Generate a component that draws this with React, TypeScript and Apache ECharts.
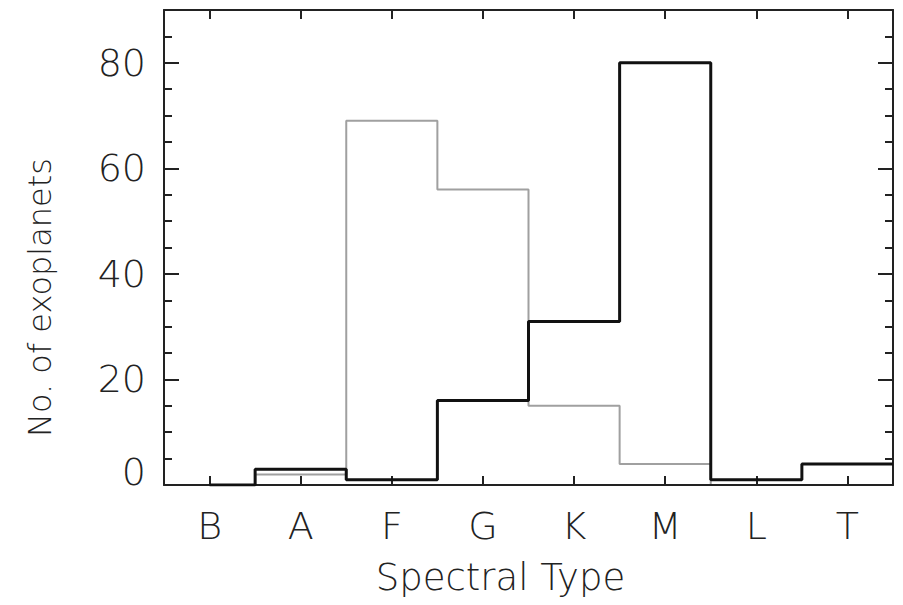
import React, { useEffect, useRef } from "react";
import * as echarts from "echarts";

const categories = ["B", "A", "F", "G", "K", "M", "L", "T"];
const blackCounts = [0, 3, 1, 16, 31, 80, 1, 4];
const grayCounts = [0, 2, 69, 56, 15, 4, 0, 0];
const yMin = 0;
const yMax = 90;
const yMajor = 20;
const yMinor = 5;

const FONT = "DejaVu Sans";
const WEIGHT = 200;
const INK = "#222";

function toSteps(values: number[]): number[][] {
  const pts = values.map((v, i) => [i, v]);
  pts.push([values.length - 0.5, values[values.length - 1]]);
  return pts;
}

export default function App() {
  const ref = useRef<HTMLDivElement>(null);
  useEffect(() => {
    if (!ref.current) return;
    const chart = echarts.init(ref.current, null, { renderer: "svg" });
    const yCommon = { type: "value", min: yMin, max: yMax, splitLine: { show: false } };
    const line = { show: true, onZero: false, lineStyle: { color: INK, width: 2 } };
    const noLine = { show: false, onZero: false };
    const option: any = {
      animation: false,
      backgroundColor: "#fff",
      grid: { left: 164, right: 10, top: 10, bottom: 120, containLabel: false },
      xAxis: [
        {
          type: "category",
          data: categories,
          position: "bottom",
          boundaryGap: true,
          axisLine: line,
          axisTick: { show: true, inside: true, alignWithLabel: true, length: 9, lineStyle: { color: INK, width: 2 } },
          axisLabel: { color: INK, fontFamily: FONT, fontWeight: WEIGHT, fontSize: 38, margin: 22 },
          splitLine: { show: false },
          name: "Spectral Type",
          nameLocation: "middle",
          nameGap: 74,
          nameTextStyle: { color: INK, fontFamily: FONT, fontWeight: WEIGHT, fontSize: 37, padding: [0, 56, 0, 0] },
        },
        {
          type: "category",
          data: categories,
          position: "top",
          boundaryGap: true,
          axisLine: line,
          axisTick: { show: true, inside: true, alignWithLabel: true, length: 9, lineStyle: { color: INK, width: 2 } },
          axisLabel: { show: false },
          splitLine: { show: false },
        },
        {
          type: "value",
          show: false,
          position: "bottom",
          min: -0.5,
          max: categories.length - 0.5,
          axisLine: noLine,
          splitLine: { show: false },
        },
      ],
      yAxis: [
        {
          ...yCommon,
          position: "left",
          interval: yMajor,
          axisLine: line,
          axisTick: { show: true, inside: true, length: 15, lineStyle: { color: INK, width: 2 } },
          axisLabel: {
            color: INK,
            fontFamily: FONT,
            fontWeight: WEIGHT,
            fontSize: 38,
            margin: 18,
            showMaxLabel: false,
            formatter: (v: number) => (v === 0 ? "{z|0}" : String(v)),
            rich: { z: { fontFamily: FONT, fontWeight: WEIGHT, fontSize: 38, color: INK, padding: [0, 0, 26, 0] } },
          },
          name: "No. of exoplanets",
          nameLocation: "middle",
          nameGap: 108,
          nameTextStyle: { color: INK, fontFamily: FONT, fontWeight: WEIGHT, fontSize: 32, padding: [0, 100, 0, 0] },
        },
        {
          ...yCommon,
          position: "left",
          interval: yMinor,
          axisLine: noLine,
          axisTick: { show: true, inside: true, length: 8, lineStyle: { color: INK, width: 2 } },
          axisLabel: { show: false },
        },
        {
          ...yCommon,
          position: "right",
          interval: yMajor,
          axisLine: line,
          axisTick: { show: true, inside: true, length: 15, lineStyle: { color: INK, width: 2 } },
          axisLabel: { show: false },
        },
        {
          ...yCommon,
          position: "right",
          interval: yMinor,
          axisLine: noLine,
          axisTick: { show: true, inside: true, length: 8, lineStyle: { color: INK, width: 2 } },
          axisLabel: { show: false },
        },
      ],
      series: [
        {
          type: "line",
          name: "gray",
          xAxisIndex: 2,
          yAxisIndex: 0,
          step: "middle",
          data: toSteps(grayCounts),
          showSymbol: false,
          symbol: "none",
          z: -1,
          lineStyle: { color: "#a0a0a0", width: 2 },
        },
        {
          type: "line",
          name: "black",
          xAxisIndex: 2,
          yAxisIndex: 0,
          step: "middle",
          data: toSteps(blackCounts),
          showSymbol: false,
          symbol: "none",
          z: 3,
          lineStyle: { color: "#111", width: 3 },
        },
      ],
    };
    chart.setOption(option);
    return () => chart.dispose();
  }, []);
  return (
    <div
      ref={ref}
      style={{ position: "absolute", left: 0, top: 0, width: 903, height: 605, background: "#fff" }}
    />
  );
}
